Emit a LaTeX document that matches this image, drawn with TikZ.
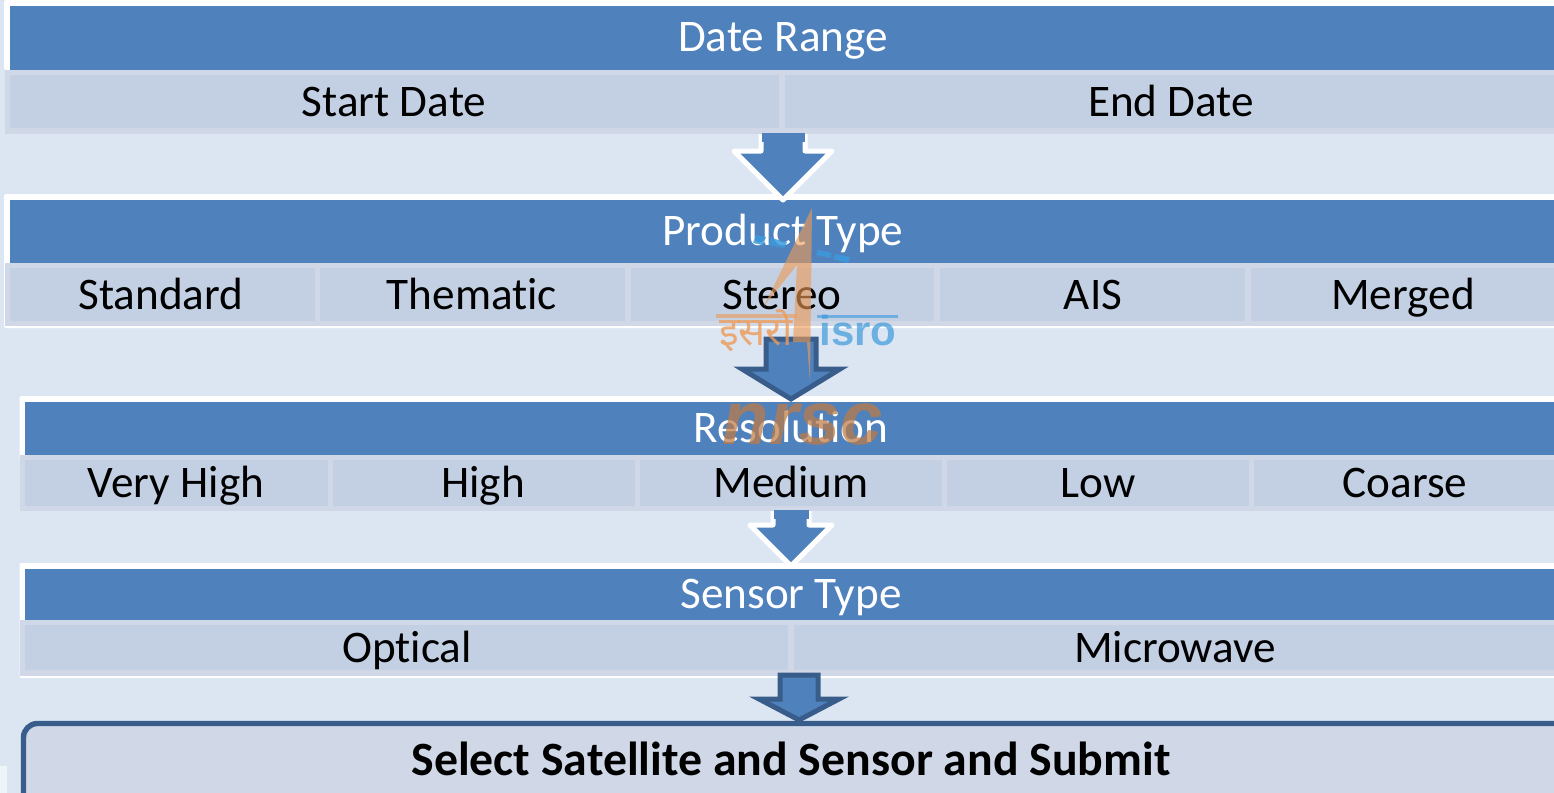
\documentclass[tikz,border=0pt]{standalone}
\usepackage{fontspec}
\setmainfont[Ligatures=NoCommon]{Carlito}
\newfontfamily\devafont[Script=Devanagari]{Noto Sans}
\newfontfamily\wmfont{Liberation Sans}
\definecolor{bgc}{HTML}{DCE6F2}
\definecolor{hdrc}{HTML}{4F81BD}
\definecolor{cellc}{HTML}{C3D0E3}
\definecolor{bandc}{HTML}{D0D8E8}
\definecolor{darkc}{HTML}{385D8A}
\definecolor{orangec}{HTML}{EE9A55}
\definecolor{bluec}{HTML}{3C9ADB}
\tikzset{
  x=0.5pt,y=-0.5pt,
  hdrtext/.style={text=white,anchor=base,font=\fontsize{22.6}{26}\selectfont,inner sep=0},
  celltext/.style={text=black,anchor=base,font=\fontsize{22.6}{26}\selectfont,inner sep=0},
  whiteframe/.style={fill=white},
  hdrfill/.style={fill=hdrc},
  bandfill/.style={fill=bandc},
  cellfill/.style={fill=cellc},
  arrowwhite/.style={fill=hdrc,draw=white,line width=2.5pt,line join=round},
  arrowdark/.style={fill=hdrc,draw=darkc,line width=2.5pt,line join=miter},
  wmorange/.style={orangec,opacity=.62},
  wmblue/.style={bluec,opacity=.85},
}
% cx, shaft top, shoulder y, tip y, half shaft, half head, style
\newcommand{\blockarrow}[7]{%
  \draw[#7] (#1-#5,#2) -- (#1-#5,#3) -- (#1-#6,#3) -- (#1,#4) -- (#1+#6,#3) -- (#1+#5,#3) -- (#1+#5,#2);
  \fill[hdrc] (#1-#5+.5,#2-1) rectangle (#1+#5-.5,#2+8);
}
\newcommand{\darkarrow}[7]{%
  \draw[#7] (#1-#5,#2) -- (#1-#5,#3) -- (#1-#6,#3) -- (#1,#4) -- (#1+#6,#3) -- (#1+#5,#3) -- (#1+#5,#2) -- cycle;
}
\begin{document}
\begin{tikzpicture}
\useasboundingbox (0,0) rectangle (1554,793);
\clip (0,0) rectangle (1554,793);
\fill[bgc] (0,0) rectangle (1554,793);
\fill[white!55!bgc] (0,766) rectangle (7,793);

% --- table 1
\fill[whiteframe,rounded corners=1pt] (4,0) rectangle (1570,70);
\fill[hdrfill] (10,5.5) rectangle (1570,69.5);
\fill[bandfill] (5,70) rectangle (1570,133.5);
\fill[cellfill] (10,75) rectangle (779,128);
\fill[cellfill] (785,75) rectangle (1570,128);
\node[hdrtext]  (daterange) at (783,51) {Date Range};
\node[celltext] (startdate) at (394,116) {Start Date};
\node[celltext] (enddate)   at (1171,116) {End Date};

% --- table 2
\fill[whiteframe,rounded corners=1pt] (4,194) rectangle (1570,328);
\fill[hdrfill] (10,199.5) rectangle (1570,263);
\fill[bandfill] (5,263) rectangle (1570,326);
\foreach \a/\b in {10/315,320/625,631/934,940/1245,1251/1570}
  \fill[cellfill] (\a,268) rectangle (\b,321);
\node[hdrtext]  (producttype) at (783,245) {Product Type};
\node[celltext] (standard) at (161,309) {Standard};
\node[celltext] (thematic) at (472,309) {Thematic};
\node[celltext] (stereo)   at (782,309) {Stereo};
\node[celltext] (ais)      at (1093,309) {AIS};
\node[celltext] (merged)   at (1403,309) {Merged};

% --- table 3
\fill[whiteframe,rounded corners=1pt] (19.5,396) rectangle (1570,460);
\fill[hdrfill] (25,401.5) rectangle (1570,455);
\fill[bandfill] (20,455) rectangle (1570,511);
\foreach \a/\b in {25/328,333/635,640/942,947/1249,1254/1570}
  \fill[cellfill] (\a,460) rectangle (\b,506);
\node[hdrtext]  (resolution) at (791,442) {Resolution};
\node[celltext] (veryhigh) at (176,497) {Very High};
\node[celltext] (high)     at (483,497) {High};
\node[celltext] (medium)   at (791,497) {Medium};
\node[celltext] (low)      at (1098,497) {Low};
\node[celltext] (coarse)   at (1405,497) {Coarse};

% --- table 4
\fill[whiteframe,rounded corners=1pt] (19.5,563) rectangle (1570,678);
\fill[hdrfill] (25,568.5) rectangle (1570,620);
\fill[bandfill] (20,620) rectangle (1570,675.5);
\fill[cellfill] (25,625) rectangle (788,670);
\fill[cellfill] (794,625) rectangle (1570,670);
\node[hdrtext]  (sensortype) at (791,608) {Sensor Type};
\node[celltext] (optical)    at (407,662) {Optical};
\node[celltext] (microwave)  at (1175,662) {Microwave};

% --- block arrows
\blockarrow{783}{134}{151}{200}{22}{49}{arrowwhite}
\darkarrow{791}{339}{369}{399}{25}{49}{arrowdark}
\blockarrow{791}{511}{525}{566}{18}{41}{arrowwhite}

% --- final box
\draw[fill=bandc,draw=darkc,line width=2.7pt,rounded corners=7pt] (23.5,723.5) rectangle (1600,830);
\darkarrow{799}{675}{699}{720}{19}{40}{arrowdark}
\node[celltext,font=\fontsize{23.9}{26}\selectfont\bfseries] (submit) at (791,775) {Select Satellite and Sensor and Submit};

% --- watermark
\fill[wmorange] (812,208) -- (764,306) -- (797,265) -- (793,342) -- (807,342) -- (810,382) -- cycle;
\fill[wmblue] (756,235) -- (766,237) -- (763,245) -- (753,243) -- cycle;
\fill[wmblue] (771,238) -- (787,242) -- (784,248) -- (769,245) -- cycle;
\fill[wmblue] (818,250) -- (832,253) -- (830,258) -- (816,255) -- cycle;
\fill[wmblue] (835,254) -- (850,257) -- (848,263) -- (833,259) -- cycle;
\node[inner sep=0,text=orangec,text opacity=.8,font=\devafont\fontsize{20}{22}\selectfont\bfseries] (isrohi) at (756,331) {इसरो};
\fill[wmorange] (716,314) rectangle (797,318);
\node[inner sep=0,text=bluec,text opacity=.7,font=\wmfont\fontsize{21}{22}\selectfont\bfseries] (isroen) at (858,330) {isro};
\fill[bluec,opacity=.62] (817,315) rectangle (898,318);
\node[inner sep=0,text=orangec!80!black,text opacity=.72,font=\wmfont\fontsize{38}{40}\selectfont\bfseries\itshape] (nrsc) at (803,424) {nrsc};
\end{tikzpicture}
\end{document}
